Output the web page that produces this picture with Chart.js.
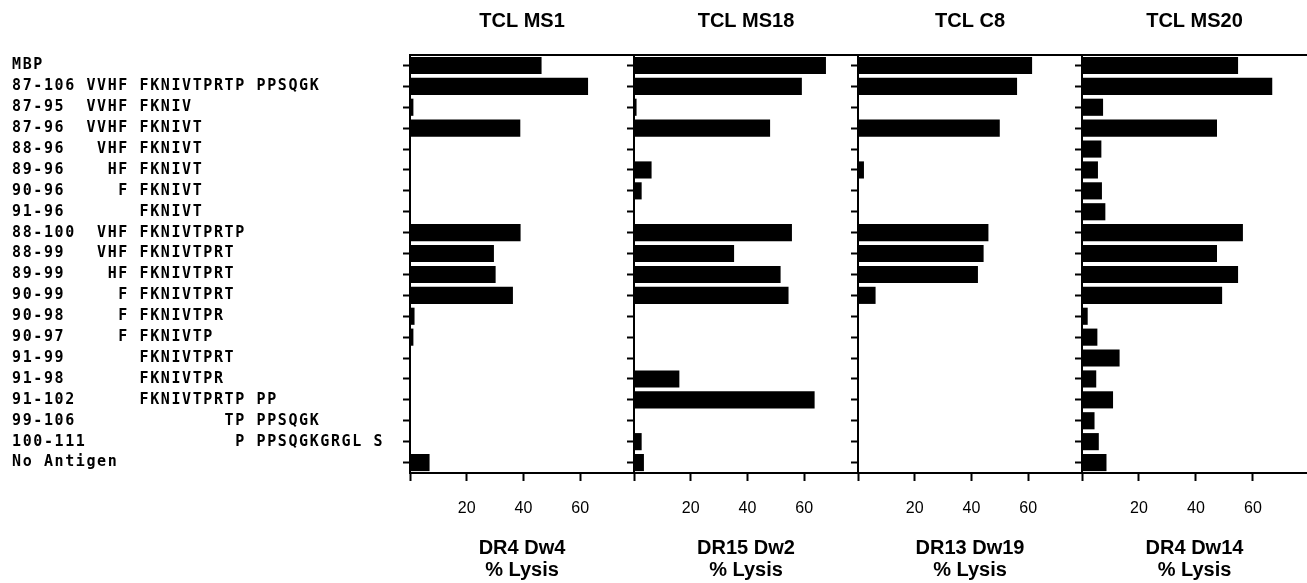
<!DOCTYPE html>
<html>
<head>
<meta charset="utf-8">
<script src="https://cdn.jsdelivr.net/npm/chart.js@4"></script>
<style>
html, body { margin: 0; padding: 0; background: #fff; }
#wrap { position: relative; width: 1307px; height: 583px; overflow: hidden; background: #fff; }
#wrap canvas { position: absolute; top: 0; }
</style>
</head>
<body>
<div id="wrap">
  <canvas id="p0" width="634" height="583" style="left:0px"></canvas>
  <canvas id="p1" width="234" height="583" style="left:624px"></canvas>
  <canvas id="p2" width="234" height="583" style="left:848px"></canvas>
  <canvas id="p3" width="235" height="583" style="left:1072px"></canvas>
</div>
<script>
// ---- data ----
const categories = [
  'MBP',
  '87-106 VVHF FKNIVTPRTP PPSQGK',
  '87-95  VVHF FKNIV',
  '87-96  VVHF FKNIVT',
  '88-96   VHF FKNIVT',
  '89-96    HF FKNIVT',
  '90-96     F FKNIVT',
  '91-96       FKNIVT',
  '88-100  VHF FKNIVTPRTP',
  '88-99   VHF FKNIVTPRT',
  '89-99    HF FKNIVTPRT',
  '90-99     F FKNIVTPRT',
  '90-98     F FKNIVTPR',
  '90-97     F FKNIVTP',
  '91-99       FKNIVTPRT',
  '91-98       FKNIVTPR',
  '91-102      FKNIVTPRTP PP',
  '99-106              TP PPSQGK',
  '100-111              P PPSQGKGRGL S',
  'No Antigen'
];

const panelTitles = ['TCL MS1', 'TCL MS18', 'TCL C8', 'TCL MS20'];
const axisTitles = [
  ['DR4 Dw4', '% Lysis'],
  ['DR15 Dw2', '% Lysis'],
  ['DR13 Dw19', '% Lysis'],
  ['DR4 Dw14', '% Lysis']
];

const lysisMS1  = [46.4, 62.8, 1.2, 38.9, 0, 0, 0, 0, 39.0, 29.6, 30.2, 36.3, 1.6, 1.2, 0, 0, 0, 0, 0, 6.9];
const lysisMS18 = [67.7, 59.2, 0.9, 48.0, 0, 6.2, 2.7, 0, 55.7, 35.3, 51.7, 54.5, 0, 0, 0, 16.0, 63.7, 0, 2.7, 3.5];
const lysisC8   = [61.4, 56.1, 0, 50.0, 0, 2.1, 0, 0, 46.0, 44.3, 42.3, 6.2, 0, 0, 0, 0, 0, 0, 0, 0];
const lysisMS20 = [54.8, 66.8, 7.4, 47.4, 6.8, 5.6, 7.0, 8.2, 56.5, 47.4, 54.8, 49.2, 2.0, 5.4, 13.2, 5.0, 10.9, 4.4, 5.9, 8.6];

const xTickValues = [20, 40, 60];
const xMin = 0, xMax = 79;

// ---- styling ----
const LABEL_SPACING = '1.6px';
const series = [lysisMS1, lysisMS18, lysisC8, lysisMS20];
const canvasIds = ['p0', 'p1', 'p2', 'p3'];

const spacedLabels = {
  id: 'spacedLabels',
  beforeDraw(chart) {
    const s = chart.scales.y;
    if (!s || s.__wrapped) return;
    const orig = s.drawLabels;
    s.drawLabels = function (area) {
      const ctx = this.ctx;
      ctx.save();
      ctx.letterSpacing = LABEL_SPACING;
      orig.call(this, area);
      ctx.restore();
    };
    s.__wrapped = true;
  }
};

function noPad(scale) {
  scale.paddingLeft = 0;
  scale.paddingRight = 0;
}

function makeChart(i) {
  const first = i === 0;
  const ctx = document.getElementById(canvasIds[i]).getContext('2d');
  return new Chart(ctx, {
    type: 'bar',
    data: {
      labels: categories,
      datasets: [{
        data: series[i],
        backgroundColor: '#000',
        borderWidth: 0,
        barPercentage: 0.82,
        categoryPercentage: 1.0,
        xAxisID: 'x',
        yAxisID: 'y'
      }]
    },
    plugins: first ? [spacedLabels] : [],
    options: {
      indexAxis: 'y',
      responsive: false,
      animation: false,
      devicePixelRatio: 1,
      layout: { padding: { left: first ? 12 : 0, right: 0, top: 0, bottom: 0 } },
      plugins: {
        legend: { display: false },
        tooltip: { enabled: false },
        title: { display: false }
      },
      scales: {
        y: {
          type: 'category',
          position: 'left',
          offset: true,
          grid: {
            display: true,
            offset: false,
            drawOnChartArea: false,
            drawTicks: true,
            tickLength: 7,
            tickWidth: 2,
            tickColor: '#000'
          },
          border: { display: true, color: '#000', width: 2 },
          ticks: {
            display: first,
            autoSkip: false,
            crossAlign: 'far',
            padding: 4,
            color: '#000',
            font: { family: "'DejaVu Sans Mono', monospace", size: 15, weight: 'bold' }
          },
          afterFit(scale) { scale.width = first ? 398 : 10; scale.paddingTop = 0; scale.paddingBottom = 0; }
        },
        x: {
          type: 'linear',
          position: 'bottom',
          min: xMin,
          max: xMax,
          grid: {
            display: true,
            drawOnChartArea: false,
            drawTicks: true,
            tickLength: 8,
            tickWidth: 2,
            tickColor: '#000'
          },
          border: { display: true, color: '#000', width: 2 },
          afterBuildTicks(scale) {
            scale.ticks = [xMin].concat(xTickValues).map(v => ({ value: v }));
          },
          ticks: {
            includeBounds: false,
            padding: 18,
            color: '#000',
            font: { family: "'Liberation Sans', Arial, sans-serif", size: 16 },
            callback: v => (xTickValues.includes(v) ? String(v) : '')
          },
          title: {
            display: true,
            text: axisTitles[i],
            color: '#000',
            padding: { top: 0, bottom: 2 },
            font: { family: "'Liberation Sans', Arial, sans-serif", size: 20, weight: 'bold', lineHeight: '22px' }
          },
          afterFit(scale) { scale.height = 110; noPad(scale); }
        },
        xTop: {
          type: 'linear',
          position: 'top',
          min: xMin,
          max: xMax,
          grid: { display: true, drawOnChartArea: false, drawTicks: false },
          border: { display: true, color: '#000', width: 2 },
          ticks: { display: false },
          title: {
            display: true,
            text: panelTitles[i],
            color: '#000',
            padding: { top: 9, bottom: 0 },
            font: { family: "'Liberation Sans', Arial, sans-serif", size: 20, weight: 'bold', lineHeight: 1.2 }
          },
          afterFit(scale) { scale.height = 55; noPad(scale); }
        }
      }
    }
  });
}

for (let i = 0; i < 4; i++) makeChart(i);
</script>
</body>
</html>
